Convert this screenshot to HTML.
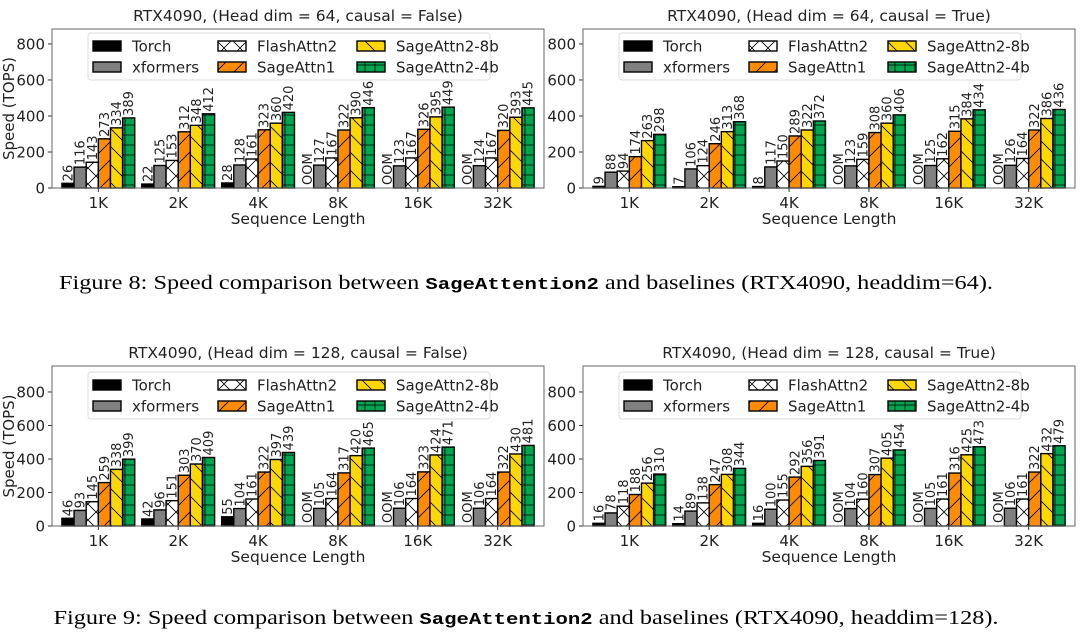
<!DOCTYPE html>
<html><head><meta charset="utf-8">
<style>
html,body{margin:0;padding:0;background:#fff;}
svg{display:block;}
text{font-family:"DejaVu Sans","Liberation Sans",sans-serif;}
</style></head>
<body>
<svg id="fig" width="1080" height="639" viewBox="0 0 1080 639" xmlns="http://www.w3.org/2000/svg">
<defs>
<pattern id="h-x" patternUnits="userSpaceOnUse" width="16" height="16"><path d="M0,0L16,16M16,0L0,16" stroke="#000" stroke-width="0.8"/></pattern>
<pattern id="h-f" patternUnits="userSpaceOnUse" width="18" height="18"><path d="M-4,4L4,-4M0,18L18,0M14,22L22,14" stroke="#000" stroke-width="0.8"/></pattern>
<pattern id="h-b" patternUnits="userSpaceOnUse" width="18" height="18"><path d="M-4,14L4,22M0,0L18,18M14,-4L22,4" stroke="#000" stroke-width="0.8"/></pattern>
<pattern id="h-p" patternUnits="userSpaceOnUse" width="10" height="10"><path d="M0,5L10,5M5,0L5,10" stroke="#000" stroke-width="0.8"/></pattern>
</defs>
<text x="526" y="289" font-size="20" textLength="934" lengthAdjust="spacingAndGlyphs" text-anchor="middle" style="font-family:'Liberation Serif',serif">Figure 8: Speed comparison between <tspan font-size="17" font-weight="bold" style="font-family:'Liberation Mono',monospace">SageAttention2</tspan> and baselines (RTX4090, headdim=64).</text>
<text x="526" y="624" font-size="20" textLength="945" lengthAdjust="spacingAndGlyphs" text-anchor="middle" style="font-family:'Liberation Serif',serif">Figure 9: Speed comparison between <tspan font-size="17" font-weight="bold" style="font-family:'Liberation Mono',monospace">SageAttention2</tspan> and baselines (RTX4090, headdim=128).</text>
</svg>
<script>
const categories = ["1K","2K","4K","8K","16K","32K"];
const seriesNames = ["Torch","xformers","FlashAttn2","SageAttn1","SageAttn2-8b","SageAttn2-4b"];
const yTicks = [0,200,400,600,800];
// null = OOM
const d64F_torch = [26,22,28,null,null,null];
const d64F_xf = [116,125,128,127,123,124];
const d64F_fa = [143,153,161,167,167,167];
const d64F_s1 = [273,312,323,322,326,320];
const d64F_s8 = [334,348,360,390,395,393];
const d64F_s4 = [389,412,420,446,449,445];
const d64T_torch = [9,7,8,null,null,null];
const d64T_xf = [88,106,117,123,125,126];
const d64T_fa = [94,124,150,159,162,164];
const d64T_s1 = [174,246,289,308,315,322];
const d64T_s8 = [263,313,322,360,384,386];
const d64T_s4 = [298,368,372,406,434,436];
const d128F_torch = [46,42,55,null,null,null];
const d128F_xf = [93,96,104,105,106,106];
const d128F_fa = [145,151,161,164,164,164];
const d128F_s1 = [259,303,322,317,323,322];
const d128F_s8 = [338,370,397,420,424,430];
const d128F_s4 = [399,409,439,465,471,481];
const d128T_torch = [16,14,16,null,null,null];
const d128T_xf = [78,89,100,104,105,106];
const d128T_fa = [118,138,155,160,161,161];
const d128T_s1 = [188,247,292,307,316,322];
const d128T_s8 = [256,308,356,405,425,432];
const d128T_s4 = [310,344,391,454,473,479];

const fills = ["#000","#808080","url(#h-x)","url(#h-f)","url(#h-b)","url(#h-p)"];
const bgs = ["#000","#808080","#fff","#ff8c00","#ffd700","#00a550"];
const svg = document.getElementById('fig');
const NS = "http://www.w3.org/2000/svg";
function mk(tag, attrs, parent){const e=document.createElementNS(NS,tag);for(const k in attrs)e.setAttribute(k,attrs[k]);(parent||svg).appendChild(e);return e;}

function chart(cfg){
  const g = mk('g',{});
  
  
  const L=cfg.left, R=cfg.left+492, T=cfg.top, B=cfg.bottom;
  const xmin=-0.58, xmax=5.58, bw=0.152;
  const xs = v => L + (v - xmin)/(xmax - xmin)*(R-L);
  const ys = v => B - v/cfg.ymax*(B-T);
  const t = mk('text',{x:(L+R)/2,y:T-8,'font-size':15.5,'text-anchor':'middle',fill:'#222'},g);
  t.textContent = cfg.title;
  
  
  yTicks.forEach(v=>{
    const y=ys(v);
    mk('line',{x1:L-4,x2:L,y1:y,y2:y,stroke:'#333','stroke-width':1},g);
    const tl = mk('text',{x:L-7,y:y+5.5,'font-size':15,'text-anchor':'end',fill:'#222'},g);
    tl.textContent = v;
    
    
  });
  if(cfg.ylabel){
    const yl = mk('text',{x:0,y:0,'font-size':15,'text-anchor':'middle',fill:'#222',transform:`translate(14,${(T+B)/2}) rotate(-90)`},g);
    yl.textContent = 'Speed (TOPS)';
    
    
  }
  cfg.series.forEach((arr,s)=>{
    arr.forEach((v,i)=>{
      const cx = i + (s-2.5)*bw;
      const x0 = xs(cx - bw/2), x1 = xs(cx + bw/2);
      if(v===null){
        const o = mk('text',{x:0,y:0,'font-size':13,fill:'#222',transform:`translate(${(x0+x1)/2+4.5},${B-3}) rotate(-90)`},g);
        o.textContent='OOM';
        
        
        return;
      }
      const y = ys(v);
      mk('rect',{x:x0,y:y,width:x1-x0,height:B-y,fill:bgs[s]},g);
      const r = mk('rect',{x:x0,y:y,width:x1-x0,height:B-y,fill:fills[s],stroke:'#000','stroke-width':1.4},g);
      
      
      const lb = mk('text',{x:0,y:0,'font-size':13,fill:'#222',transform:`translate(${(x0+x1)/2+4.5},${y-2}) rotate(-90)`},g);
      lb.textContent = v;
      
      
    });
  });
  categories.forEach((c,i)=>{
    const x=xs(i);
    mk('line',{x1:x,x2:x,y1:B,y2:B+4,stroke:'#333','stroke-width':1},g);
    const tl = mk('text',{x:x,y:B+20,'font-size':15,'text-anchor':'middle',fill:'#222'},g);
    tl.textContent=c;
    
    
  });
  const xl = mk('text',{x:(L+R)/2,y:B+36,'font-size':15.5,'text-anchor':'middle',fill:'#222'},g);
  xl.textContent='Sequence Length';
  
  
  mk('rect',{x:L,y:T,width:R-L,height:B-T,fill:'none',stroke:'#666','stroke-width':1},g);
  const lt = cfg.legTop;
  const leg = mk('g',{},g);
  
  
  mk('rect',{x:L+36,y:lt,width:402,height:47,fill:'#fff','fill-opacity':0.85,stroke:'#ddd','stroke-width':1,rx:3},leg);
  const colX=[41,166,305];
  seriesNames.forEach((n,s)=>{
    const col=Math.floor(s/2), row=s%2;
    const px=L+colX[col], py=lt+8+row*21;
    mk('rect',{x:px,y:py,width:28,height:10,fill:bgs[s]},leg);
    mk('rect',{x:px,y:py,width:28,height:10,fill:fills[s],stroke:'#000','stroke-width':1.4},leg);
    const tx = mk('text',{x:px+39,y:py+10.5,'font-size':15,fill:'#222'},leg);
    tx.textContent=n;
    
    
  });
}
chart({name:'chart-hd64-noncausal',title:'RTX4090, (Head dim = 64, causal = False)',left:52,top:29,bottom:188,ymax:883,legTop:33,ylabel:true,series:[d64F_torch,d64F_xf,d64F_fa,d64F_s1,d64F_s8,d64F_s4]});
chart({name:'chart-hd64-causal',title:'RTX4090, (Head dim = 64, causal = True)',left:583,top:29,bottom:188,ymax:883,legTop:33,ylabel:false,series:[d64T_torch,d64T_xf,d64T_fa,d64T_s1,d64T_s8,d64T_s4]});
chart({name:'chart-hd128-noncausal',title:'RTX4090, (Head dim = 128, causal = False)',left:52,top:366,bottom:526,ymax:955,legTop:372,ylabel:true,series:[d128F_torch,d128F_xf,d128F_fa,d128F_s1,d128F_s8,d128F_s4]});
chart({name:'chart-hd128-causal',title:'RTX4090, (Head dim = 128, causal = True)',left:583,top:366,bottom:526,ymax:955,legTop:372,ylabel:false,series:[d128T_torch,d128T_xf,d128T_fa,d128T_s1,d128T_s8,d128T_s4]});
</script>
</body></html>
